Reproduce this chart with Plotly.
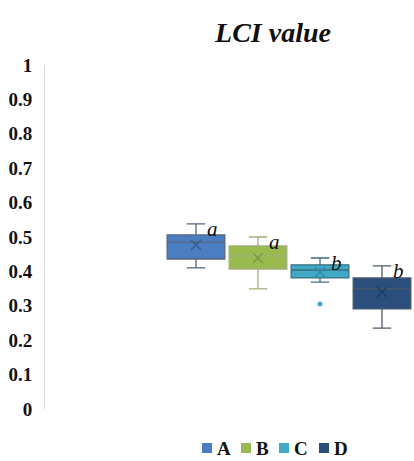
import plotly.graph_objects as go

groups = ["A", "B", "C", "D"]
positions = [1, 2, 3, 4]
upper = [0.538, 0.500, 0.439, 0.416]
q3 = [0.506, 0.474, 0.419, 0.381]
median = [0.485, 0.445, 0.404, 0.349]
mean = [0.477, 0.439, 0.398, 0.340]
q1 = [0.436, 0.407, 0.381, 0.291]
lower = [0.410, 0.349, 0.369, 0.235]
outlier_group = ["C"]
outlier_value = [0.305]
letters = ["a", "a", "b", "b"]
yticks = [0, 0.1, 0.2, 0.3, 0.4, 0.5, 0.6, 0.7, 0.8, 0.9, 1]

fills = ["#4A7DC1", "#98BA4E", "#3FA9C6", "#2A4F7D"]
whisk = ["#56657A", "#A4AE7E", "#3D6F80", "#4D5A6A"]
meanc = ["#3A5F92", "#7E9A45", "#2F8BA3", "#1F3B60"]

SERIF = "Liberation Serif"
W, H, L, R, T, B = 414, 461, 45, 0, 65, 52
PW, PH = W - L - R, H - T - B

def px_x(p):
    return (p - L) / PW

def px_y(p):
    return (H - B - p) / PH

fig = go.Figure()
for i, g in enumerate(groups):
    fig.add_trace(go.Box(
        x=[positions[i]], q1=[q1[i]], median=[median[i]], q3=[q3[i]],
        lowerfence=[lower[i]], upperfence=[upper[i]],
        width=0.93, whiskerwidth=0.32, name=g,
        fillcolor=fills[i], line=dict(color=whisk[i], width=1.3),
        showlegend=False, hoverinfo="skip"))
    fig.add_trace(go.Scatter(
        x=[positions[i]], y=[mean[i]], mode="markers",
        marker=dict(symbol="x-thin", size=10, line=dict(color=meanc[i], width=1.5)),
        showlegend=False, hoverinfo="skip"))
    fig.add_annotation(x=positions[i] + 0.15, y=upper[i], text=f"<i>{letters[i]}</i>",
                       showarrow=False, xanchor="left", yanchor="top", yshift=9,
                       font=dict(family=SERIF, size=21, color="#111"))

for g, v in zip(outlier_group, outlier_value):
    i = groups.index(g)
    fig.add_trace(go.Scatter(x=[positions[i]], y=[v], mode="markers",
                             marker=dict(size=5, color=fills[i]),
                             showlegend=False, hoverinfo="skip"))

# legend (square swatch + bold label), laid out like the original
legend_square_px = [202, 241, 279, 319]
legend_y_px = 448
for i, g in enumerate(groups):
    x0 = legend_square_px[i]
    fig.add_shape(type="rect", xref="paper", yref="paper",
                  x0=px_x(x0), x1=px_x(x0 + 10),
                  y0=px_y(legend_y_px + 5), y1=px_y(legend_y_px - 5),
                  fillcolor=fills[i], line=dict(width=0))
    fig.add_annotation(xref="paper", yref="paper", x=px_x(x0 + 13), y=px_y(legend_y_px),
                       text=f"<b>{g}</b>", showarrow=False, xanchor="left", yanchor="middle",
                       font=dict(family=SERIF, size=19, color="#111"))

fig.update_layout(
    width=W, height=H,
    margin=dict(l=L, r=R, t=T, b=B),
    paper_bgcolor="white", plot_bgcolor="white",
    font=dict(family=SERIF, color="#111"),
    showlegend=False,
    title=dict(text="<b><i>LCI value</i></b>", x=px_x(273), xref="paper", xanchor="center",
               y=1 - 32 / H, yanchor="middle",
               font=dict(size=28, family=SERIF, color="#111")),
    xaxis=dict(range=[-1.435, 4.516], showticklabels=False, showgrid=False,
               zeroline=False, showline=False, automargin=False),
    yaxis=dict(range=[0, 1], tickvals=yticks, ticktext=[f"<b>{t:g}</b>" for t in yticks],
               tickfont=dict(size=19, family=SERIF), showgrid=False,
               zeroline=False, showline=True, linecolor="#D9D9D9", linewidth=1,
               ticks="", ticklabelstandoff=8, automargin=False),
)

fig.write_html("out.html", config={"displayModeBar": False},
               post_script="document.body.style.margin='0';")
